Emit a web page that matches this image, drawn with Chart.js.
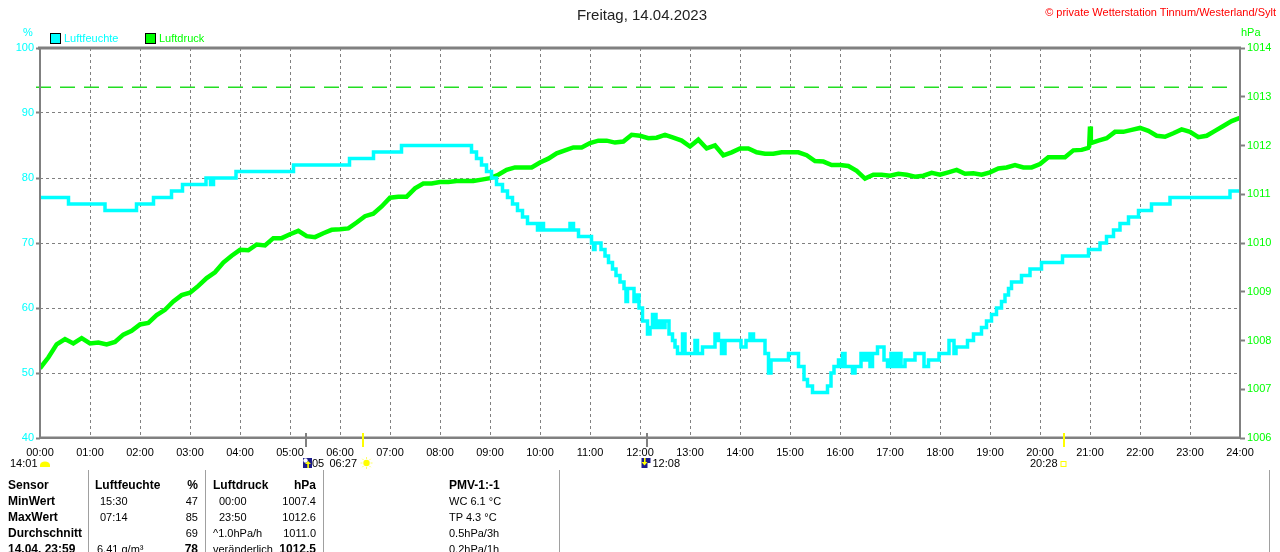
<!DOCTYPE html>
<html><head><meta charset="utf-8">
<script src="https://cdn.jsdelivr.net/npm/chart.js@4.4.0/dist/chart.umd.min.js"></script>
<style>
body{margin:0;background:#fff;width:1280px;height:552px;overflow:hidden;position:relative;font-family:"Liberation Sans",Arial,sans-serif;}
#c{position:absolute;left:0;top:0;}
.t{position:absolute;white-space:nowrap;font-size:11px;line-height:14px;color:#000;}
.b{font-weight:bold;font-size:12px;}
.sep{position:absolute;width:1px;background:#a0a0a0;top:470px;height:82px;}
.sq{position:absolute;width:9px;height:9px;border:1px solid #000;}
</style></head><body>
<canvas id="c" width="1280" height="552"></canvas>

<div class="t" style="left:0;width:1284px;text-align:center;top:5px;font-size:15px;line-height:20px;color:#222">Freitag, 14.04.2023</div>
<div class="t" style="right:4px;top:5px;color:#ff0000;">© private Wetterstation Tinnum/Westerland/Sylt</div>
<div class="t" style="left:23px;top:25px;color:#00ffff;">%</div>
<div class="t" style="left:1241px;top:25px;color:#00ff00;">hPa</div>
<div class="sq" style="left:50px;top:33px;background:#00ffff"></div>
<div class="t" style="left:64px;top:31px;color:#00ffff;">Luftfeuchte</div>
<div class="sq" style="left:145px;top:33px;background:#00ff00"></div>
<div class="t" style="left:159px;top:31px;color:#00ff00;">Luftdruck</div>

<div class="sep" style="left:88px"></div>
<div class="sep" style="left:205px"></div>
<div class="sep" style="left:323px"></div>
<div class="sep" style="left:559px"></div>
<div class="sep" style="left:1269px"></div>
<div id="table"></div>

<script>
// ---------- data ----------
const xTickHours = [0,1,2,3,4,5,6,7,8,9,10,11,12,13,14,15,16,17,18,19,20,21,22,23,24];

// Luftfeuchte (%): value valid from the given hour on (step line)
const humHours = [0,0.57,1.3,1.93,2.27,2.63,2.85,3.32,3.41,3.47,3.92,5.07,6.19,6.67,7.23,
 8.63,8.73,8.83,8.93,9.03,9.13,9.25,9.35,9.45,9.55,9.65,9.75,9.95,10.02,10.07,10.6,10.67,10.77,
 11.03,11.07,11.1,11.22,11.3,11.37,11.45,11.52,11.6,11.68,11.72,11.75,11.88,11.93,11.98,
 12.05,12.15,12.2,12.25,12.32,12.38,12.45,12.5,12.58,12.65,12.7,12.75,12.85,12.9,
 13.1,13.15,13.25,13.5,13.57,13.63,13.7,14.02,14.12,14.2,14.27,14.5,14.57,14.62,14.97,
 15.17,15.28,15.35,15.45,15.75,15.82,15.88,15.97,16.02,16.05,16.1,16.25,16.3,16.42,16.48,
 16.55,16.6,16.65,16.75,16.88,16.95,17.02,17.08,17.15,17.22,17.3,17.5,17.68,17.77,17.98,
 18.18,18.28,18.32,18.55,18.67,18.83,18.93,19.03,19.13,19.23,19.3,19.37,19.43,19.63,19.8,
 20.03,20.45,20.97,21.2,21.33,21.47,21.6,21.77,21.97,22.23,22.6,23.8,24.0];
const humValues = [77,76,75,76,77,78,79,80,79,80,81,82,83,84,85,
 84,83,82,81,80,79,78,77,76,75,74,73,72,73,72,73,72,71,
 70,69,70,69,68,67,66,65,64,63,61,63,61,62,60,
 58,56,57,59,57,58,57,58,56,55,54,53,56,53,
 55,53,54,56,55,53,55,54,55,56,55,53,50,52,53,
 51,49,48,47,48,50,51,52,51,53,51,50,51,53,52,
 53,51,53,54,52,51,53,51,53,51,52,53,51,52,53,
 55,53,54,55,56,57,58,59,60,61,62,63,64,65,66,
 67,68,69,70,71,72,73,74,75,76,77,78,78];

// Luftdruck (hPa) by minute of day
const pressMinutes = [0,10,20,30,40,50,60,70,80,90,100,110,120,130,140,150,160,170,180,190,200,210,220,230,
 240,250,260,270,280,290,300,310,320,330,340,350,360,370,380,390,400,410,420,430,440,450,460,470,
 480,490,500,510,520,530,540,550,560,570,580,590,600,610,620,630,640,650,660,670,680,690,700,710,
 720,730,740,750,760,770,780,790,800,810,820,830,840,850,860,870,880,890,900,910,920,930,940,950,
 960,970,980,990,1000,1010,1020,1030,1040,1050,1060,1070,1080,1090,1100,1110,1120,1130,1140,1150,
 1160,1170,1180,1190,1200,1210,1220,1230,1240,1250,1258,1259,1260,1261,1270,1280,1290,1300,1310,1320,
 1330,1340,1350,1360,1370,1380,1390,1400,1410,1420,1430,1440];
const pressValues = [1007.43,1007.65,1007.92,1008.03,1007.94,1008.05,1007.94,1007.96,1007.92,1007.97,1008.12,1008.20,
 1008.33,1008.36,1008.52,1008.63,1008.80,1008.93,1008.98,1009.12,1009.28,1009.40,1009.60,1009.74,
 1009.86,1009.85,1009.97,1009.95,1010.10,1010.10,1010.18,1010.25,1010.14,1010.12,1010.20,1010.27,
 1010.28,1010.30,1010.42,1010.55,1010.60,1010.75,1010.93,1010.95,1010.95,1011.12,1011.22,1011.22,
 1011.25,1011.25,1011.27,1011.27,1011.27,1011.30,1011.33,1011.40,1011.50,1011.55,1011.55,1011.55,
 1011.65,1011.73,1011.84,1011.90,1011.96,1011.96,1012.05,1012.10,1012.10,1012.06,1012.08,1012.22,
 1012.20,1012.15,1012.16,1012.22,1012.16,1012.10,1011.98,1012.12,1011.94,1012.00,1011.80,1011.86,
 1011.94,1011.94,1011.86,1011.83,1011.83,1011.86,1011.86,1011.86,1011.80,1011.68,1011.67,1011.60,
 1011.60,1011.58,1011.48,1011.32,1011.40,1011.40,1011.38,1011.42,1011.40,1011.36,1011.38,1011.44,
 1011.40,1011.45,1011.50,1011.42,1011.43,1011.40,1011.45,1011.53,1011.55,1011.60,1011.55,1011.55,
 1011.62,1011.76,1011.76,1011.76,1011.90,1011.91,1011.95,1011.98,1012.39,1012.05,1012.10,1012.15,
 1012.28,1012.28,1012.32,1012.36,1012.30,1012.20,1012.18,1012.25,1012.33,1012.28,1012.17,1012.20,
 1012.30,1012.40,1012.50,1012.57];

const pressRef = [1013.2];          // dashed reference level (hPa)
const refEndHour = [23.8];

// sun / moon markers below the time axis
const markerHours  = [5.32, 6.45, 12.13, 20.47];
const markerColors = ['#808080', '#ffff00', '#808080', '#ffff00'];

// table
const tableRows = [
  ['Sensor','Luftfeuchte','%','Luftdruck','hPa','PMV-1:-1'],
  ['MinWert','15:30','47','00:00','1007.4','WC 6.1 °C'],
  ['MaxWert','07:14','85','23:50','1012.6','TP 4.3 °C'],
  ['Durchschnitt','','69','^1.0hPa/h','1011.0','0.5hPa/3h'],
  ['14.04. 23:59','6.41 g/m³','78','veränderlich','1012.5','0.2hPa/1h']
];

// ---------- table ----------
(function(){
  const host = document.getElementById('table');
  let html = '';
  tableRows.forEach((r,i)=>{
    const top = 478 + i*16;
    const hdr = i===0;
    const c = (cls, style, txt) => `<div class="t ${cls}" style="top:${top}px;${style}">${txt}</div>`;
    html += c('b','left:8px', r[0]);
    html += c(hdr?'b':'', `left:${hdr?95:(i===4?97:100)}px`, r[1]);
    html += c((hdr||i===4)?'b':'', 'right:1082px', r[2]);
    html += c(hdr?'b':'', `left:${(hdr||i>=3)?213:219}px`, r[3]);
    html += c((hdr||i===4)?'b':'', 'right:964px', r[4]);
    html += c(hdr?'b':'', 'left:449px', r[5]);
  });
  host.innerHTML = html;
})();

// ---------- chart ----------
const humData = humHours.map((h,i)=>({x:h, y:humValues[i]}));
const pressData = pressMinutes.map((m,i)=>({x:m/60, y:pressValues[i]}));

const extras = {
  id:'extras',
  afterDatasetsDraw(chart){
    const ctx = chart.ctx, a = chart.chartArea;
    const xs = chart.scales.x, y2 = chart.scales.y2;
    ctx.save();
    // reference dashed line
    const ry = Math.round(y2.getPixelForValue(pressRef[0]));
    ctx.fillStyle = '#22dd22';
    const xEnd = xs.getPixelForValue(refEndHour[0]);
    for (let x = a.left - 4; x < xEnd; x += 24) {
      ctx.fillRect(x, ry - 0.5, Math.min(15, xEnd - x), 1.5);
    }
    // frame
    ctx.fillStyle = '#808080';
    ctx.fillRect(a.left-2, a.top-1.5, a.right-a.left+3, 3);
    ctx.fillRect(a.left-1, a.top-1, 2, a.bottom-a.top+2);
    ctx.fillRect(a.right-1, a.top-1, 2, a.bottom-a.top+2);
    ctx.fillRect(a.left-1, a.bottom-1.5, a.right-a.left+2, 2.5);
    // markers
    markerHours.forEach((h,i)=>{
      const x = Math.round(xs.getPixelForValue(h));
      ctx.fillStyle = markerColors[i];
      ctx.fillRect(x-1, a.bottom-5, 2, 14);
    });
    // icons
    const px0 = xs.getPixelForValue(markerHours[0]);
    ctx.fillStyle = '#1a1a8c'; ctx.fillRect(px0-3, 458, 9, 10);
    ctx.fillStyle = '#fff'; ctx.beginPath(); ctx.arc(px0-0.5, 460.5, 2.2, 0, Math.PI*2); ctx.fill();
    ctx.fillStyle = '#ffff00'; ctx.beginPath(); ctx.moveTo(px0+2,461); ctx.lineTo(px0+5,464); ctx.lineTo(px0-1,464); ctx.fill();
    ctx.fillRect(px0+1.3, 464, 1.6, 4);
    const px2 = xs.getPixelForValue(markerHours[2]);
    ctx.fillStyle = '#1a1a8c'; ctx.fillRect(px2-5, 458, 9, 10);
    ctx.fillStyle = '#fff'; ctx.fillRect(px2+1, 463, 4, 5);
    ctx.fillStyle = '#ffff00'; ctx.fillRect(px2-2.5, 458, 1.6, 4);
    ctx.beginPath(); ctx.moveTo(px2-5,462); ctx.lineTo(px2+1,462); ctx.lineTo(px2-2,465.5); ctx.fill();
    // sun
    const sx = xs.getPixelForValue(markerHours[1]) + 2;
    ctx.fillStyle = '#ffff00'; ctx.strokeStyle = '#ffff66'; ctx.lineWidth = 1;
    ctx.beginPath(); ctx.arc(sx+2, 463, 3.2, 0, Math.PI*2); ctx.fill();
    for (let k=0;k<8;k++){const an=k*Math.PI/4; ctx.beginPath(); ctx.moveTo(sx+2+Math.cos(an)*4, 463+Math.sin(an)*4); ctx.lineTo(sx+2+Math.cos(an)*6, 463+Math.sin(an)*6); ctx.stroke();}
    // moon (left) and small square (right)
    ctx.fillStyle = '#ffff00';
    ctx.beginPath(); ctx.ellipse(45, 465, 5, 3.5, 0, Math.PI, 0); ctx.fill(); ctx.fillRect(40,465,10,2);
    const mx = xs.getPixelForValue(markerHours[3]);
    ctx.strokeStyle = '#ffff00'; ctx.strokeRect(mx-2.5, 461.5, 5, 5);
    // texts
    ctx.fillStyle = '#000'; ctx.font = '11px "Liberation Sans", Arial, sans-serif'; ctx.textBaseline = 'middle';
    ctx.textAlign = 'left';
    ctx.fillText('14:01', 10, 464);
    ctx.fillText('05', px0+6, 464);
    ctx.fillText('06:27', xs.getPixelForValue(markerHours[1]) - 33, 464);
    ctx.fillText('12:08', px2+6, 464);
    ctx.textAlign = 'right';
    ctx.fillText('20:28', mx-6, 464);
    ctx.restore();
  }
};

const font11 = {family:'"Liberation Sans", Arial, sans-serif', size:11};

new Chart(document.getElementById('c'), {
  type:'line',
  data:{datasets:[
    {label:'Luftfeuchte', data:humData, yAxisID:'y', borderColor:'#00ffff', backgroundColor:'#00ffff',
     borderWidth:3.5, pointRadius:0, stepped:true, tension:0, borderJoinStyle:'miter'},
    {label:'Luftdruck', data:pressData, yAxisID:'y2', borderColor:'#00ff00', backgroundColor:'#00ff00',
     borderWidth:4.5, pointRadius:0, tension:0}
  ]},
  options:{
    responsive:false, animation:false, devicePixelRatio:1,
    layout:{padding:{top:48,left:0,right:0,bottom:0}},
    plugins:{legend:{display:false}, tooltip:{enabled:false}, title:{display:false}},
    scales:{
      x:{type:'linear', min:0, max:24,
         afterBuildTicks(s){ s.ticks = xTickHours.map(v=>({value:v})); },
         afterFit(s){ s.height = 114; },
         ticks:{color:'#000', font:font11, padding:8, maxRotation:0, autoSkip:false,
                callback:v=>(v<10?'0':'')+v+':00'},
         grid:{color:'#808080', lineWidth:1, drawTicks:false},
         border:{display:false, dash:[3,3]}},
      y:{type:'linear', position:'left', min:40, max:100,
         afterFit(s){ s.width = 40; },
         ticks:{stepSize:10, color:'#00ffff', font:font11, padding:2, callback:v=>String(v)},
         grid:{color:'#808080', lineWidth:1, drawTicks:true, tickLength:4, tickColor:'#808080', tickWidth:2},
         border:{display:false, dash:[3,3]}},
      y2:{type:'linear', position:'right', min:1006, max:1014,
         afterFit(s){ s.width = 40; },
         ticks:{stepSize:1, color:'#00ff00', font:font11, padding:2, callback:v=>String(v)},
         grid:{drawOnChartArea:false, drawTicks:true, tickLength:5, tickColor:'#808080', tickWidth:2},
         border:{display:false}}
    }
  },
  plugins:[extras]
});
</script>
</body></html>
